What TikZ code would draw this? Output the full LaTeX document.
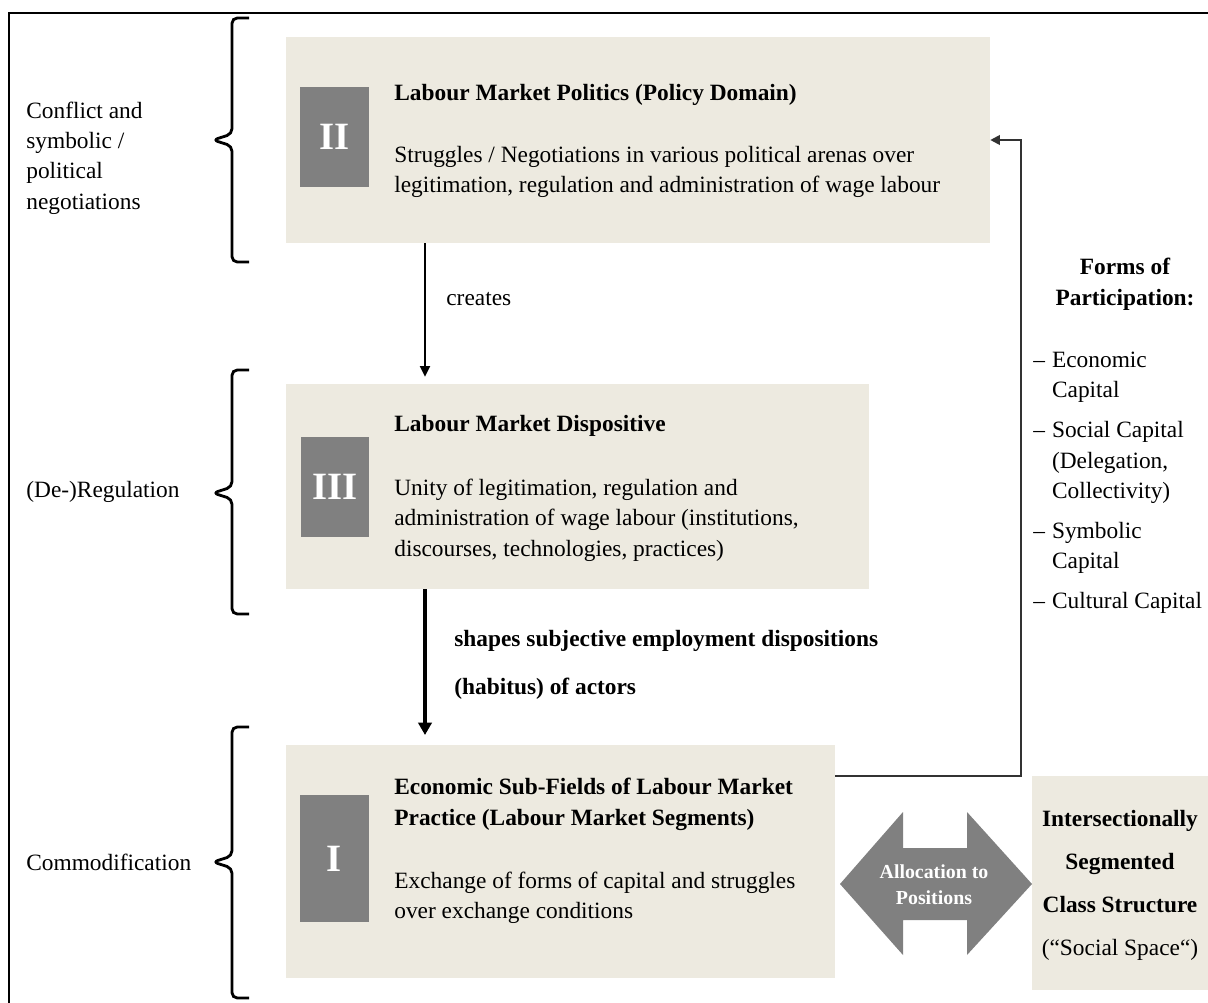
\documentclass[tikz,border=0pt]{standalone}
\usepackage{fontspec}
\setmainfont{Liberation Serif}
\usetikzlibrary{arrows.meta, positioning}
\usepackage{xcolor}
\definecolor{panelbg}{RGB}{237,234,224}
\definecolor{numgrey}{RGB}{128,128,128}
\definecolor{linegrey}{RGB}{50,50,50}

\begin{document}
\begin{tikzpicture}[
x=0.02cm, y=-0.02cm,
>={Triangle[width=5.8pt,length=6pt]},
every node/.style={inner sep=0pt, font=\fontsize{13.3}{17.3}\selectfont},
panel/.style={fill=panelbg},
numbox/.style={fill=numgrey, text=white, minimum width=1.38cm, font=\fontsize{22}{22}\selectfont\bfseries},
title/.style={anchor=west, align=left, font=\fontsize{13.3}{17.3}\selectfont\bfseries},
body/.style={anchor=west, align=left},
bracket/.style={line width=1.6pt, rounded corners=3pt},
]
\useasboundingbox (0,0) rectangle (1208,1003);
\draw[line width=1.7pt] (9,13) rectangle (1240,1040);

% Panels
\node[panel, minimum width=14.08cm, minimum height=4.12cm] (polit) at (638,140) {};
\node[panel, minimum width=11.66cm, minimum height=4.1cm] (dispo) at (577.5,486.5) {};
\node[panel, minimum width=10.98cm, minimum height=4.66cm] (econ) at (560.5,861.5) {};
\node[panel, minimum width=3.52cm, minimum height=4.28cm] (space) at (1120,883) {};

\node[numbox, minimum height=2cm] (numII) at (334.5,137) {II};
\node[numbox, minimum height=2cm] (numIII) at (335,487) {III};
\node[numbox, minimum height=2.54cm] (numI) at (334.5,858.5) {I};

% Panel texts
\node[title] (politT) at (394,95) {Labour Market Politics (Policy Domain)};
\node[body] (politB) at (394,172) {Struggles / Negotiations in various political arenas over\\legitimation, regulation and administration of wage labour};
\node[title] (dispoT) at (394,426) {Labour Market Dispositive};
\node[body] (dispoB) at (394,520) {Unity of legitimation, regulation and\\administration of wage labour (institutions,\\discourses, technologies, practices)};
\node[title] (econT) at (394,804.5) {Economic Sub-Fields of Labour Market\\Practice (Labour Market Segments)};
\node[body] (econB) at (394,898) {Exchange of forms of capital and struggles\\over exchange conditions};

% Brackets
\draw[bracket] (249,18) -- (232,18) -- (232,134) -- (213,140) -- (232,146) -- (232,262) -- (249,262);
\draw[bracket] (249,370) -- (232,370) -- (232,487) -- (213,493) -- (232,499) -- (232,614) -- (249,614);
\draw[bracket] (249,727) -- (232,727) -- (232,856) -- (213,862) -- (232,868) -- (232,998) -- (249,998);

\node[body] (conflict) at (26,158) {Conflict and\\symbolic /\\political\\negotiations};
\node[body] (regul) at (26,492) {(De-)Regulation};
\node[body] (commod) at (26,862) {Commodification};

% Arrows
\coordinate (cx) at (425,0);
\draw[->, line width=0.85pt, shorten >=4pt] (polit.south -| cx) -- (dispo.north -| cx);
\node[body] (creates) at (446,299) {creates};
\draw[->, line width=2.3pt, shorten >=5.5pt, >={Triangle[width=7.5pt,length=7pt]}] (dispo.south -| cx) -- (econ.north -| cx);
\node[body, font=\fontsize{13.3}{27.2}\selectfont\bfseries] (shapes) at (454,665) {shapes subjective employment dispositions\\(habitus) of actors};

\coordinate (turn) at (1021,776);
\draw[->, line width=1.1pt, draw=linegrey, >={Triangle[width=5.5pt,length=5.5pt]}] (econ.east |- turn) -- (turn) |- (polit.east);

% Forms of participation
\node[align=center, font=\fontsize{13.3}{17.6}\selectfont\bfseries] (forms) at (1125,284) {Forms of\\Participation:};
\node[anchor=west] (capitals) at (1033,482) {\begin{tabular}{@{}l@{\hspace{4pt}}l@{}}
–&Economic\\ &Capital\\[5.5pt]
–&Social Capital\\ &(Delegation,\\ &Collectivity)\\[5.5pt]
–&Symbolic\\ &Capital\\[5.5pt]
–&Cultural Capital
\end{tabular}};

% Allocation
\fill[numgrey] (840,884) -- (903,812) -- (903,848) -- (967,848) -- (967,812) -- (1032,884)
  -- (967,955) -- (967,920) -- (903,920) -- (903,955) -- cycle;
\node[align=center, text=white, font=\fontsize{11.3}{14.7}\selectfont\bfseries] (alloc) at (934,885) {Allocation to\\Positions};
\node[align=center, font=\fontsize{13.3}{24.5}\selectfont] (spaceT) at (1120,885) {\textbf{Intersectionally}\\\textbf{Segmented}\\\textbf{Class Structure}\\(“Social Space“)};

\end{tikzpicture}
\end{document}
